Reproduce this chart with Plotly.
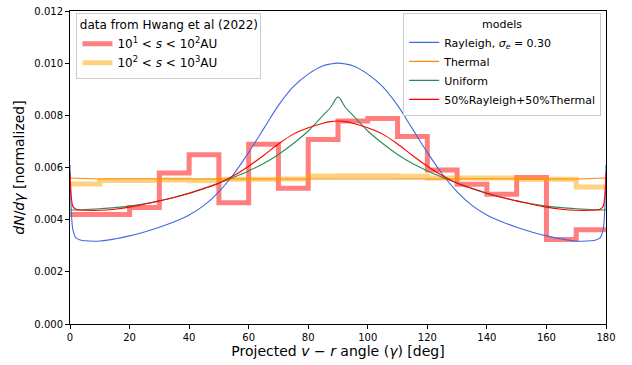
import plotly.graph_objects as go

# ---------------- data ----------------
# binned data from Hwang et al (2022): bin edges and values
BIN_EDGES = [0, 10, 20, 30, 40, 50, 60, 70, 80, 90, 100, 110, 120, 130, 140, 150, 160, 170, 180]
DATA_CLOSE = [0.00420, 0.00420, 0.00447, 0.00579, 0.00649, 0.00465, 0.00689, 0.00520, 0.00707,
              0.00778, 0.00788, 0.00719, 0.00590, 0.00536, 0.00497, 0.00562, 0.00324, 0.00361]
DATA_WIDE = [0.00537, 0.00550, 0.00550, 0.00552, 0.00549, 0.00555, 0.00555, 0.00556, 0.00567,
             0.00568, 0.00568, 0.00566, 0.00560, 0.00560, 0.00560, 0.00555, 0.00555, 0.00525]

# model curves
MODEL_ANGLE = [0, 0.5, 1, 2, 3.5, 5, 10, 15, 20, 25, 30, 35, 40, 45, 50, 55, 60, 65, 70, 75, 80, 85,
               87.5, 90, 92.5, 95, 100, 105, 110, 115, 120, 125, 130, 135, 140, 145, 150, 155, 160,
               165, 170, 175, 176.5, 178, 179, 179.5, 180]
RAYLEIGH = [0.00610, 0.00420, 0.00360, 0.00330, 0.00322, 0.00319, 0.00318, 0.00326, 0.00338, 0.00353,
            0.00371, 0.00392, 0.00418, 0.00455, 0.00507, 0.00575, 0.00658, 0.00748, 0.00838, 0.00910,
            0.00958, 0.00990, 0.00997, 0.01000, 0.00997, 0.00990, 0.00958, 0.00910, 0.00838, 0.00748,
            0.00658, 0.00575, 0.00507, 0.00455, 0.00418, 0.00392, 0.00371, 0.00353, 0.00338, 0.00326,
            0.00318, 0.00319, 0.00322, 0.00330, 0.00360, 0.00420, 0.00610]
UNIFORM = [0.00440, 0.00437, 0.00437, 0.00437, 0.00438, 0.00439, 0.00442, 0.00446, 0.00452, 0.00461,
           0.00472, 0.00486, 0.00502, 0.00520, 0.00541, 0.00563, 0.00587, 0.00615, 0.00650, 0.00692,
           0.00740, 0.00800, 0.00830, 0.00870, 0.00830, 0.00800, 0.00740, 0.00692, 0.00650, 0.00615,
           0.00587, 0.00563, 0.00541, 0.00520, 0.00502, 0.00486, 0.00472, 0.00461, 0.00452, 0.00446,
           0.00442, 0.00439, 0.00438, 0.00437, 0.00437, 0.00437, 0.00440]
MIXED = [0.00580, 0.00480, 0.00450, 0.00440, 0.00437, 0.00436, 0.00436, 0.00440, 0.00448, 0.00459,
         0.00472, 0.00485, 0.00500, 0.00519, 0.00540, 0.00569, 0.00605, 0.00646, 0.00690, 0.00728,
         0.00752, 0.00770, 0.00776, 0.00778, 0.00776, 0.00770, 0.00752, 0.00728, 0.00690, 0.00646,
         0.00605, 0.00569, 0.00540, 0.00519, 0.00500, 0.00485, 0.00472, 0.00459, 0.00448, 0.00440,
         0.00436, 0.00436, 0.00437, 0.00440, 0.00450, 0.00480, 0.00580]
THERMAL_ANGLE = [0, 10, 20, 30, 40, 50, 60, 70, 80, 90, 100, 110, 120, 130, 140, 150, 160, 170, 180]
THERMAL = [0.00560, 0.00556, 0.00557, 0.00556, 0.00557, 0.00556, 0.00556, 0.00557, 0.00556, 0.00556,
           0.00557, 0.00556, 0.00556, 0.00557, 0.00556, 0.00557, 0.00556, 0.00556, 0.00560]

X_TICKS = [0, 20, 40, 60, 80, 100, 120, 140, 160, 180]
Y_TICKS = [0.000, 0.002, 0.004, 0.006, 0.008, 0.010, 0.012]

# ---------------- figure ----------------
fig = go.Figure()

fig.add_trace(go.Scatter(
    x=BIN_EDGES, y=DATA_CLOSE + [DATA_CLOSE[-1]], mode="lines", line_shape="hv",
    line=dict(color="rgba(255,0,0,0.5)", width=5),
    name="10<sup>1</sup> &lt; <i>s</i> &lt; 10<sup>2</sup>AU", legend="legend"))
fig.add_trace(go.Scatter(
    x=BIN_EDGES, y=DATA_WIDE + [DATA_WIDE[-1]], mode="lines", line_shape="hv",
    line=dict(color="rgba(255,165,0,0.5)", width=5),
    name="10<sup>2</sup> &lt; <i>s</i> &lt; 10<sup>3</sup>AU", legend="legend"))

fig.add_trace(go.Scatter(
    x=MODEL_ANGLE, y=RAYLEIGH, mode="lines", line_shape="spline",
    line=dict(color="royalblue", width=1.1),
    name="Rayleigh, <i>σ<sub>e</sub></i> = 0.30", legend="legend2"))
fig.add_trace(go.Scatter(
    x=THERMAL_ANGLE, y=THERMAL, mode="lines",
    line=dict(color="darkorange", width=1.1),
    name="Thermal", legend="legend2"))
fig.add_trace(go.Scatter(
    x=MODEL_ANGLE, y=UNIFORM, mode="lines", line_shape="spline",
    line=dict(color="seagreen", width=1.1),
    name="Uniform", legend="legend2"))
fig.add_trace(go.Scatter(
    x=MODEL_ANGLE, y=MIXED, mode="lines", line_shape="spline",
    line=dict(color="red", width=1.1),
    name="50%Rayleigh+50%Thermal", legend="legend2"))

font_family = "DejaVu Sans"

fig.update_layout(
    width=632, height=365,
    margin=dict(l=70, r=26, t=5, b=41),
    paper_bgcolor="white", plot_bgcolor="white",
    font=dict(family=font_family, size=10, color="black"),
    xaxis=dict(
        range=[0, 180], tickmode="array", tickvals=X_TICKS,
        ticks="outside", ticklen=4, tickwidth=1, tickcolor="black",
        showline=True, linecolor="black", linewidth=1, mirror=True,
        showgrid=False, zeroline=False, ticklabeloverflow="allow",
        title=dict(text="Projected <i>v</i> − <i>r</i> angle (<i>γ</i>) [deg]",
                   font=dict(size=14), standoff=4),
    ),
    yaxis=dict(
        range=[0, 0.012], tickmode="array", tickvals=Y_TICKS, tickformat=".3f",
        ticks="outside", ticklen=4, tickwidth=1, tickcolor="black",
        showline=True, linecolor="black", linewidth=1, mirror=True,
        showgrid=False, zeroline=False, ticklabeloverflow="allow",
        title=dict(text="<i>dN</i>/<i>dγ</i> [normalized]", font=dict(size=14), standoff=6),
    ),
    legend=dict(
        x=0.012, y=0.995, xanchor="left", yanchor="top",
        bgcolor="rgba(255,255,255,0.8)", bordercolor="#cccccc", borderwidth=1,
        font=dict(size=12), tracegroupgap=0, itemwidth=30,
        title=dict(text="data from Hwang et al (2022)", side="top center", font=dict(size=12)),
    ),
    legend2=dict(
        x=0.991, y=0.995, xanchor="right", yanchor="top",
        bgcolor="rgba(255,255,255,0.8)", bordercolor="#cccccc", borderwidth=1,
        font=dict(size=11), tracegroupgap=0, itemwidth=30,
        title=dict(text="models", side="top center", font=dict(size=11)),
    ),
    showlegend=True,
)

fig.write_html("out.html")
